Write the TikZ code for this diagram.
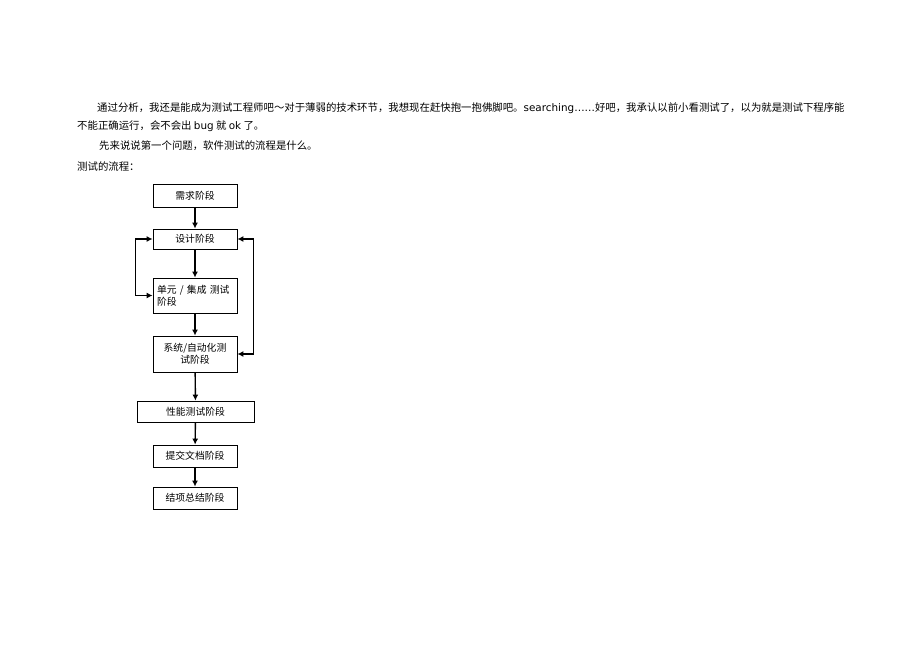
\documentclass[tikz,border=0pt]{standalone}
\usepackage{fontspec}
\setmainfont{Noto Sans CJK SC}
\newfontfamily\latinfont{DejaVu Sans}
\usetikzlibrary{arrows.meta}

\begin{document}
\begin{tikzpicture}[x=1pt,y=-1pt,>={Latex[length=6pt,width=6pt]},
    stagebox/.style={draw,line width=0.8pt,minimum width=84pt,inner sep=2pt,font=\fontsize{9.8}{12}\selectfont},
    bodytext/.style={anchor=base west,inner sep=0pt,font=\fontsize{10.4}{13}\selectfont},
    flow/.style={->,line width=1.4pt}]
    \useasboundingbox[fill=white] (0,0) rectangle (920,651);

    % Intro text
    \node[bodytext] (introA) at (97,111) {通过分析，我还是能成为测试工程师吧～对于薄弱的技术环节，我想现在赶快抱一抱佛脚吧。{\latinfont searching……}好吧，我承认以前小看测试了，以为就是测试下程序能};
    \node[bodytext] (introB) at (77,129) {不能正确运行，会不会出 {\latinfont bug} 就 {\latinfont ok} 了。};
    \node[bodytext] (introC) at (99,149) {先来说说第一个问题，软件测试的流程是什么。};
    \node[bodytext] (introD) at (77,170) {测试的流程：};

    % Stages
    \node[stagebox,minimum height=23pt] (req) at (195,195.5) {需求阶段};
    \node[stagebox,minimum height=20pt] (design) at (195,239) {设计阶段};
    \node[stagebox,minimum height=35pt,text width=76pt,align=left] (unit) at (195,295.5) {单元 / 集成 测试\\阶段};
    \node[stagebox,minimum height=36pt,text width=76pt,align=center] (sys) at (195,354) {系统/自动化测\\试阶段};
    \node[stagebox,minimum width=117pt,minimum height=21pt] (perf) at (195.5,411.5) {性能测试阶段};
    \node[stagebox,minimum height=22pt] (doc) at (195,456) {提交文档阶段};
    \node[stagebox,minimum height=22pt] (close) at (195,498) {结项总结阶段};

    % Main flow
    \draw[flow] (req) -- (design);
    \draw[flow] (design) -- (unit);
    \draw[flow] (unit) -- (sys);
    \draw[flow] (sys) -- (perf);
    \draw[flow] (perf) -- (doc);
    \draw[flow] (doc) -- (close);

    % Feedback loops
    \draw[flow,<->] (unit.west) -- ++(-17,0) |- (design.west);
    \draw[flow,<->] (sys.east) -- ++(16,0) |- (design.east);
\end{tikzpicture}
\end{document}
